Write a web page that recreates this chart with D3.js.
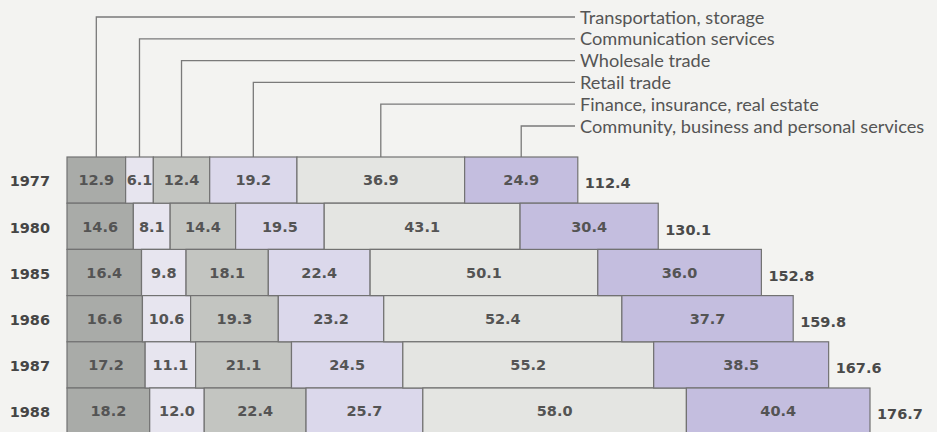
<!DOCTYPE html>
<html><head><meta charset="utf-8">
<script src="https://cdn.jsdelivr.net/npm/d3@7/dist/d3.min.js"></script>
<style>
body{margin:0;background:#f3f3f1;}
svg{display:block;}
</style></head>
<body>
<script>
const years = ["1977","1980","1985","1986","1987","1988"];
const sectors = ["Transportation, storage","Communication services","Wholesale trade","Retail trade","Finance, insurance, real estate","Community, business and personal services"];
const transport = [12.9,14.6,16.4,16.6,17.2,18.2];
const communication = [6.1,8.1,9.8,10.6,11.1,12.0];
const wholesale = [12.4,14.4,18.1,19.3,21.1,22.4];
const retail = [19.2,19.5,22.4,23.2,24.5,25.7];
const finance = [36.9,43.1,50.1,52.4,55.2,58.0];
const community = [24.9,30.4,36.0,37.7,38.5,40.4];
const totals = [112.4,130.1,152.8,159.8,167.6,176.7];
const colors = ["#a9aba8","#e7e5ef","#c3c5c1","#dbd8eb","#e4e5e2","#c4bedf"];

const W=937,H=432;
const svg=d3.select("body").append("svg").attr("width",W).attr("height",H);
svg.append("rect").attr("width",W).attr("height",H).attr("fill","#f3f3f1");

const series=[transport,communication,wholesale,retail,finance,community];
const table=years.map((y,i)=>{const o={year:y,total:totals[i]};sectors.forEach((s,k)=>o[s]=series[k][i]);return o;});
const stacked=d3.stack().keys(sectors)(table);

const x=d3.scaleLinear().domain([0,176.7]).range([67,870]);
const y=d3.scaleBand().domain(years).range([157,157+46.2*6]).padding(0);

const legendFont="Lato, 'Open Sans', sans-serif";
const numFont="'DejaVu Sans', sans-serif";

// legend connectors
const legendY=d3.scaleLinear().domain([0,5]).range([17,126]);
stacked.forEach((s,k)=>{
  const d=s[0];
  const cx=(x(d[0])+x(d[1]))/2;
  const ly=legendY(k);
  svg.append("path").attr("d",`M${cx},${y(years[0])} V${ly} H575`)
    .attr("fill","none").attr("stroke","#7a7a7a").attr("stroke-width",1.3);
  svg.append("text").attr("x",580).attr("y",ly).attr("dy","0.36em")
    .attr("font-family",legendFont).attr("font-size",18.2).attr("fill","#555")
    .text(sectors[k]);
});

// bars
const g=svg.append("g");
stacked.forEach((s,k)=>{
  g.selectAll(null).data(s).join("rect")
    .attr("x",d=>x(d[0])).attr("y",d=>y(d.data.year))
    .attr("width",d=>x(d[1])-x(d[0])).attr("height",y.bandwidth())
    .attr("fill",colors[k]).attr("stroke","#727272").attr("stroke-width",1.2);
});
stacked.forEach((s,k)=>{
  g.selectAll(null).data(s).join("text")
    .attr("x",d=>(x(d[0])+x(d[1]))/2).attr("y",d=>y(d.data.year)+y.bandwidth()/2)
    .attr("dy","0.36em").attr("text-anchor","middle")
    .attr("font-family",numFont).attr("font-weight",700).attr("font-size",14.5)
    .attr("fill","#545454").text(d=>d.data[sectors[k]].toFixed(1));
});
// totals
g.selectAll(null).data(table).join("text")
  .attr("x",d=>x(d.total)+7).attr("y",d=>y(d.year)+y.bandwidth()/2+3)
  .attr("dy","0.36em").attr("font-family",numFont).attr("font-weight",700).attr("font-size",14.5)
  .attr("fill","#4a4a4a").text(d=>d.total.toFixed(1));
// year labels
g.selectAll(null).data(years).join("text")
  .attr("x",50).attr("y",d=>y(d)+y.bandwidth()/2+1)
  .attr("dy","0.36em").attr("text-anchor","end")
  .attr("font-family",numFont).attr("font-weight",700).attr("font-size",14.5)
  .attr("fill","#454545").text(d=>d);
</script>
</body></html>
